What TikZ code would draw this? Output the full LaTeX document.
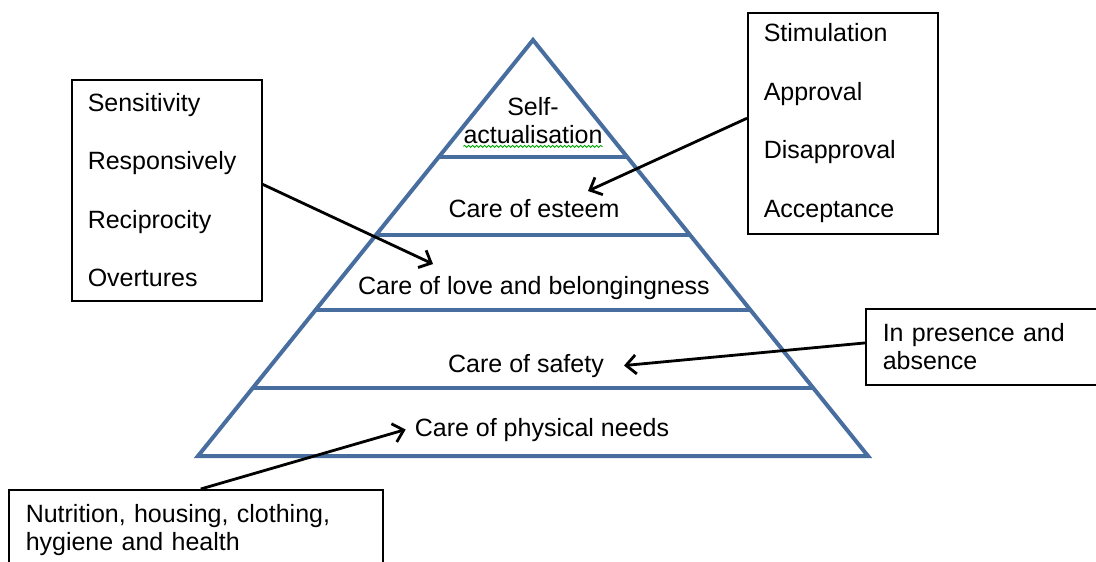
\documentclass[tikz,border=0pt]{standalone}
\usepackage{fontspec}
\setmainfont{Liberation Sans}
\usetikzlibrary{arrows.meta,calc,decorations.pathmorphing}
\definecolor{pyramidblue}{RGB}{72,110,160}

\begin{document}
\begin{tikzpicture}
    [ x=1pt, y=-1pt
    , every node/.style={font=\fontsize{25}{28}\selectfont, inner sep=0pt}
    , level/.style={draw=pyramidblue, line width=4pt}
    , listbox/.style={draw, line width=1.5pt, anchor=north west, align=left, inner xsep=16pt, minimum width=190pt, minimum height=221pt, text width=158pt, font=\fontsize{25}{58.5}\selectfont}
    , notebox/.style={draw, line width=1.5pt, anchor=north west, align=left, inner xsep=17pt, inner ysep=15pt}
    , pointer/.style={line width=2.8pt, -{Straight Barb[length=10pt,width=19pt]}}
    , spell/.style={draw=green!65!black, line width=0.8pt, decorate, decoration={snake, amplitude=1pt, segment length=4pt}}
    ]
    \useasboundingbox (0,0) rectangle (1096,562);
    \coordinate (apex) at (533,40);
    \coordinate (baseL) at (198,456);
    \coordinate (baseR) at (868,456);
    \draw [level] (apex) -- (baseL) -- (baseR) -- cycle;
    \foreach \lvl in {157,235,310,388}
      \draw [level] ($(apex)!{(\lvl-40)/416}!(baseL)$) -- ($(apex)!{(\lvl-40)/416}!(baseR)$);

    \node (selfact) [align=center] at (533,121) {Self-\\actualisation};
    \node (esteem) [anchor=base] at (534,217) {Care of esteem};
    \node (love) [anchor=base] at (534,294) {Care of love and belongingness};
    \node (safety) [anchor=base] at (526,372) {Care of safety};
    \node (phys) [anchor=base] at (542,436) {Care of physical needs};
    \draw [spell] ([yshift=-2pt]selfact.south west) -- ([yshift=-2pt]selfact.south east);

    \node (careset) [listbox] at (71,79) {Sensitivity\\Responsively\\Reciprocity\\Overtures};
    \node (feedback) [listbox] at (747,12) {Stimulation\\Approval\\Disapproval\\Acceptance};
    \node (presence) [notebox, text width=226pt] at (865,308) {In presence and\\absence};
    \node (needs) [notebox, text width=340pt] at (8,489) {Nutrition, housing, clothing,\\hygiene and health};

    \coordinate (loveTip) at (433,264);
    \coordinate (esteemTip) at (588,191);
    \draw [pointer] ([yshift=6pt]careset.east) -- (loveTip);
    \draw [pointer] ([yshift=5pt]feedback.west) -- (esteemTip);
    \draw [pointer] ([yshift=4pt]presence.west) -- ([xshift=20pt]safety.east);
    \draw [pointer] ([xshift=5pt]needs.north) -- ([xshift=-9pt]phys.west);
\end{tikzpicture}
\end{document}
